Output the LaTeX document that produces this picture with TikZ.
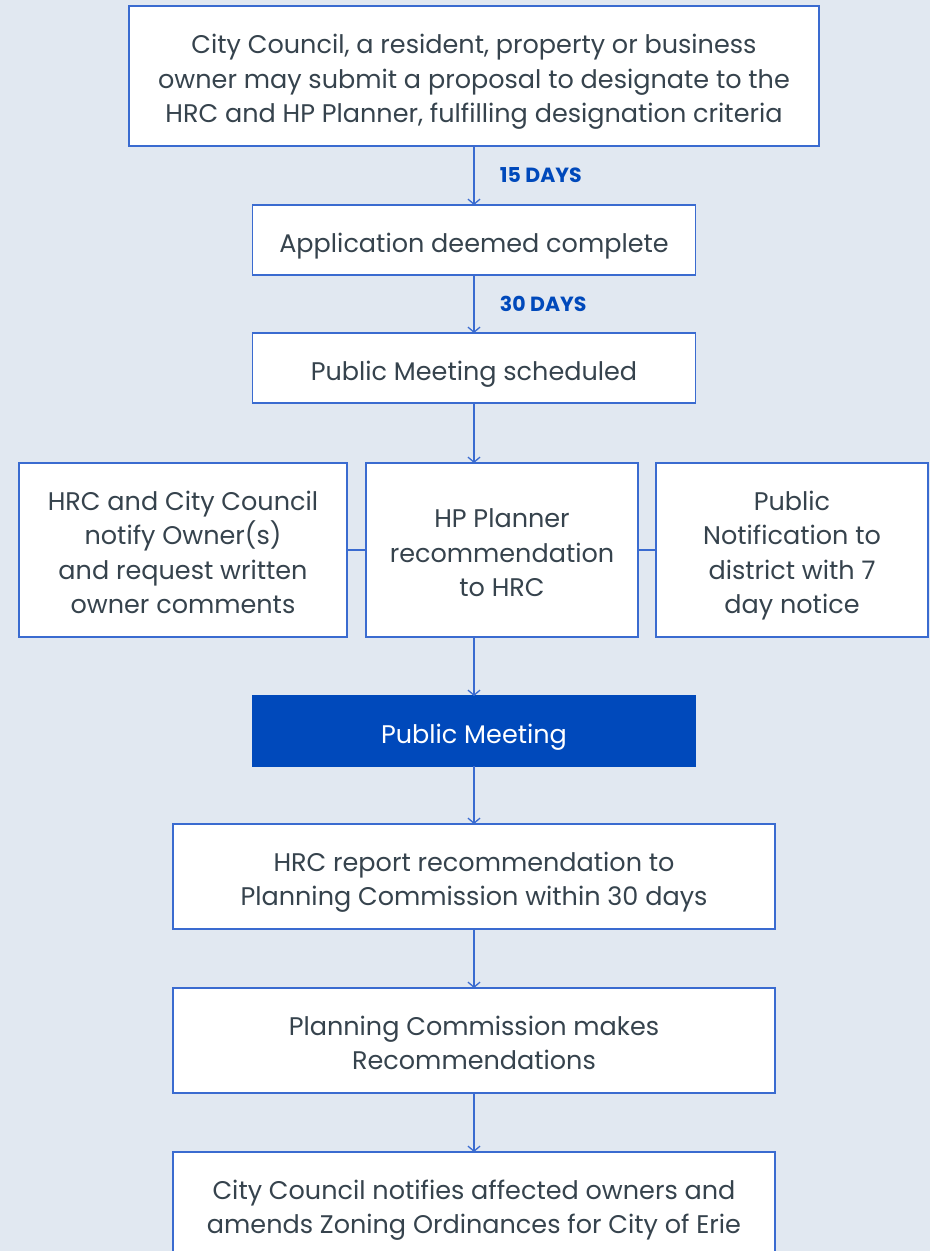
\documentclass[tikz,border=0pt]{standalone}
\usepackage{fontspec}
\setmainfont{Poppins}
\usepackage{xcolor}
\usepackage{tikz}
\usetikzlibrary{arrows.meta, positioning}

\definecolor{pagebg}{HTML}{E1E8F1}
\definecolor{frameblue}{HTML}{3A6BD0}
\definecolor{deepblue}{HTML}{0049BB}
\definecolor{textgray}{HTML}{36434D}

\begin{document}
\begin{tikzpicture}
	[node distance=59pt, >={Straight Barb[length=5pt,width=12pt]},
	lines/.style={execute at begin node={\rule{0pt}{\dimexpr #1\dimexpr34.5pt\relax-3.5pt\relax}}},
	step box/.style={rectangle, draw=frameblue, line width=1.3pt, outer sep=0pt, fill=white, text=textgray, align=center, inner sep=0pt,
		font=\fontsize{25.5}{34.5}\selectfont, lines=1, execute at end node={\rule[-7pt]{0pt}{0pt}}},
	wide box/.style={step box, minimum width=443pt, minimum height=70pt},
	long box/.style={step box, lines=2, minimum width=602pt, minimum height=105pt},
	side box/.style={step box, minimum width=272pt, minimum height=174pt},
	meeting/.style={wide box, draw=deepblue, fill=deepblue, text=white},
	flow/.style={->, draw=frameblue, line width=1.3pt},
	days/.style={right=22pt, text=deepblue, font=\fontsize{20.5}{22}\selectfont\bfseries}
	]

	% Page and background
	\useasboundingbox[fill=pagebg] (0pt,0pt) rectangle (930pt,-1251pt);

	% Nodes
	\node[step box, lines=3, minimum width=690pt, minimum height=140pt] (proposal) at (474pt,-76pt)
		{City Council, a resident, property or business\\ owner may submit a proposal to designate to the\\ HRC and HP Planner, fulfilling designation criteria};
	\node[wide box, below=of proposal] (complete) {Application deemed complete};
	\node[wide box, below=58pt of complete] (scheduled) {Public Meeting scheduled};
	\node[side box, lines=3, below=60pt of scheduled, xshift=28pt] (planner) {HP Planner\\ recommendation\\ to HRC};
	\node[side box, lines=4, minimum width=328pt, left=19pt of planner] (owners)
		{HRC and City Council\\ notify Owner(s)\\ and request written\\ owner comments};
	\node[side box, lines=4, right=18pt of planner] (notice)
		{Public\\ Notification to\\ district with 7\\ day notice};
	\node[meeting, below=59pt of planner, xshift=-28pt] (meeting) {Public Meeting};
	\node[long box, below=58pt of meeting] (hrcreport)
		{HRC report recommendation to\\ Planning Commission within 30 days};
	\node[long box, below=of hrcreport] (commission)
		{Planning Commission makes\\ Recommendations};
	\node[long box, below=of commission] (council)
		{City Council notifies affected owners and\\ amends Zoning Ordinances for City of Erie};

	% Arrows
	\draw[flow] (proposal) -- (complete) node[midway, days]{15 DAYS};
	\draw[flow] (complete) -- (scheduled) node[midway, days]{30 DAYS};
	\draw[flow] (scheduled.south) -- (scheduled.south |- planner.north);
	\draw[flow] (meeting.north |- planner.south) -- (meeting.north);
	\draw[flow] (meeting) -- (hrcreport);
	\draw[flow] (hrcreport) -- (commission);
	\draw[flow] (commission) -- (council);

	% Side links
	\draw[frameblue, line width=1.3pt] (owners) -- (planner);
	\draw[frameblue, line width=1.3pt] (planner) -- (notice);
\end{tikzpicture}
\end{document}
